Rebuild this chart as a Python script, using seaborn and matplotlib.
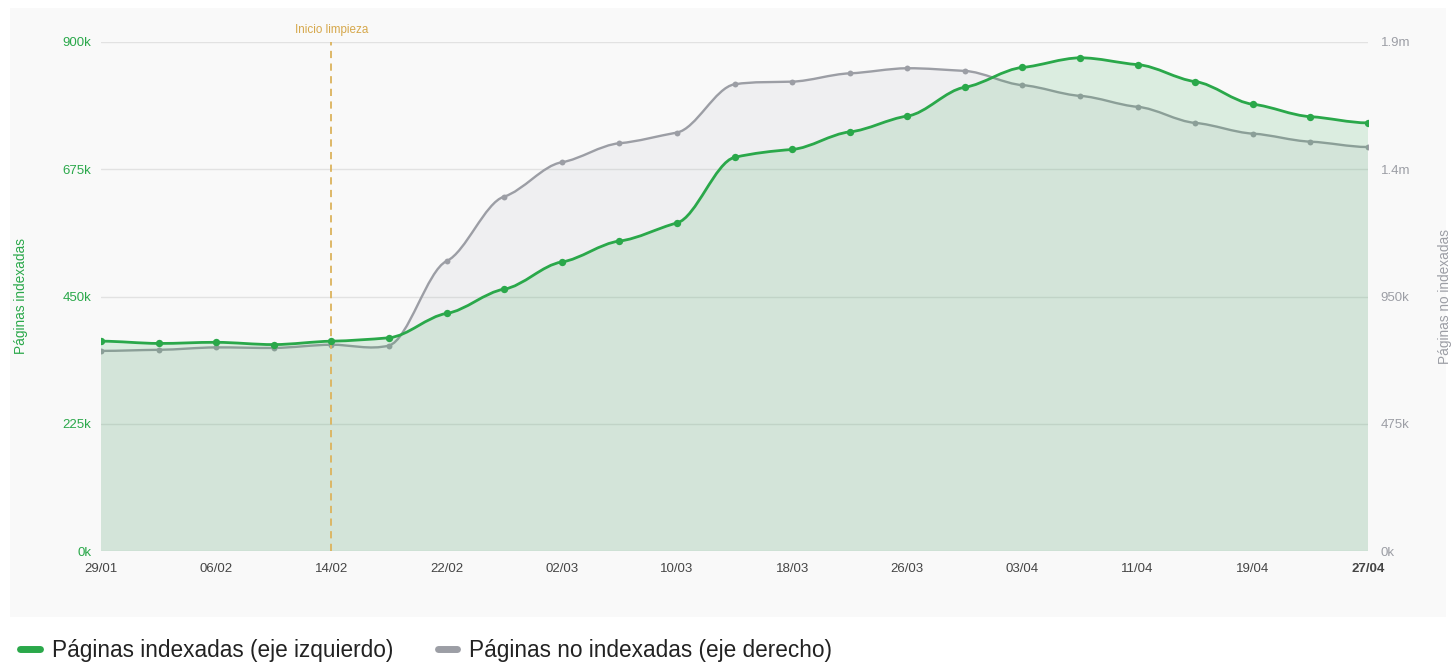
import matplotlib
matplotlib.use("Agg")
import numpy as np
import pandas as pd
import matplotlib.pyplot as plt
import matplotlib.dates as mdates
import seaborn as sns
from matplotlib.path import Path
from matplotlib.patches import PathPatch, Rectangle
from matplotlib.lines import Line2D

# datos (un punto cada 4 dias, anio no bisiesto)
fechas = pd.date_range("2023-01-29", "2023-04-27", freq="4D")
paginas_indexadas = [371000, 367000, 369000, 365000, 371000, 377000, 420000, 463000,
                     511000, 548000, 580000, 696000, 710000, 741000, 769000, 820000,
                     855000, 872000, 860000, 830000, 790000, 768000, 757000]
paginas_no_indexadas = [747000, 751000, 760000, 758000, 770000, 767000, 1082000, 1323000,
                        1451000, 1522000, 1562000, 1742000, 1752000, 1783000, 1802000, 1792000,
                        1739000, 1699000, 1658000, 1598000, 1558000, 1528000, 1508000]
ticks_izq = [0, 225000, 450000, 675000, 900000]
etiquetas_izq = ["0k", "225k", "450k", "675k", "900k"]
ticks_der = [0, 475000, 950000, 1425000, 1900000]
etiquetas_der = ["0k", "475k", "950k", "1.4m", "1.9m"]
fecha_limpieza = pd.Timestamp("2023-02-14")

verde = "#2aa84a"
gris = "#9c9ea5"
dorado = "#dcb35c"


def curva_suave(x, y, k=0.35, base=None):
    # camino bezier que pasa por cada punto (tangentes suavizadas)
    x = np.asarray(x, dtype=float)
    y = np.asarray(y, dtype=float)
    n = len(x)
    m = np.zeros(n)
    for i in range(1, n - 1):
        m[i] = k * (y[i + 1] - y[i - 1]) / (x[i + 1] - x[i - 1])
    verts = [(x[0], y[0])]
    codes = [Path.MOVETO]
    if base is not None:
        verts = [(x[0], base), (x[0], y[0])]
        codes = [Path.MOVETO, Path.LINETO]
    for i in range(n - 1):
        dx = x[i + 1] - x[i]
        verts += [(x[i] + dx / 3, y[i] + m[i] * dx / 3),
                  (x[i + 1] - dx / 3, y[i + 1] - m[i + 1] * dx / 3),
                  (x[i + 1], y[i + 1])]
        codes += [Path.CURVE4] * 3
    if base is not None:
        verts += [(x[-1], base), (x[0], base)]
        codes += [Path.LINETO, Path.CLOSEPOLY]
    return Path(verts, codes)


sns.set_theme(style="white")
plt.rcParams["font.family"] = ["Liberation Sans", "DejaVu Sans"]

W, H = 1456, 672
fig = plt.figure(figsize=(W / 100, H / 100), dpi=100)
fig.patches.append(Rectangle((10 / W, 1 - 617 / H), 1436 / W, 609 / H,
                             transform=fig.transFigure, facecolor="#f9f9f9",
                             edgecolor="none", zorder=-10))

ax1 = fig.add_axes([101 / W, 1 - 551 / H, 1267 / W, 509 / H])
ax2 = ax1.twinx()
ax1.set_zorder(2)
ax2.set_zorder(1)
ax1.patch.set_visible(False)
ax2.patch.set_visible(False)

xnum = mdates.date2num(fechas)

# serie gris (eje derecho)
ax2.add_patch(PathPatch(curva_suave(xnum, paginas_no_indexadas, base=0),
                        facecolor="#a8acb8", alpha=0.12, edgecolor="none", zorder=1))
ax2.add_patch(PathPatch(curva_suave(xnum, paginas_no_indexadas),
                        facecolor="none", edgecolor=gris, lw=1.7, zorder=3))
sns.scatterplot(x=fechas, y=paginas_no_indexadas, ax=ax2, color=gris, s=18,
                edgecolor=gris, linewidth=0, zorder=4, legend=False)

# serie verde (eje izquierdo)
ax1.add_patch(PathPatch(curva_suave(xnum, paginas_indexadas, base=0),
                        facecolor=verde, alpha=0.14, edgecolor="none", zorder=1))
ax1.add_patch(PathPatch(curva_suave(xnum, paginas_indexadas),
                        facecolor="none", edgecolor=verde, lw=2.0, zorder=3))
sns.scatterplot(x=fechas, y=paginas_indexadas, ax=ax1, color=verde, s=28,
                edgecolor=verde, linewidth=0, zorder=4, legend=False)

# linea de inicio de limpieza
ax1.axvline(fecha_limpieza, color=dorado, lw=1.3, ls=(0, (4, 3)), zorder=2)
ax1.text(fecha_limpieza, 1.023, "Inicio limpieza", transform=ax1.get_xaxis_transform(),
         ha="center", va="center", fontsize=8.4, color="#d6a84c")

ax1.set_xlim(fechas[0], fechas[-1])
ax1.set_ylim(0, 900000)
ax2.set_ylim(0, 1900000)

ax1.set_yticks(ticks_izq)
ax1.set_yticklabels(etiquetas_izq)
ax2.set_yticks(ticks_der)
ax2.set_yticklabels(etiquetas_der)
ax1.set_xticks(fechas[::2])
ax1.set_xticklabels([f.strftime("%d/%m") for f in fechas[::2]])
ax1.get_xticklabels()[-1].set_fontweight("bold")

ax2.yaxis.grid(True, color="#e2e2e2", lw=1)
ax2.set_axisbelow(True)
ax1.grid(False)
ax2.xaxis.grid(False)

ax1.tick_params(axis="x", length=0, pad=8.5, labelsize=9.5, labelcolor="#454545")
ax1.tick_params(axis="y", length=0, pad=7, labelsize=9.5, labelcolor=verde)
ax2.tick_params(axis="y", length=0, pad=9, labelsize=9.5, labelcolor=gris)

for a in (ax1, ax2):
    for s in a.spines.values():
        s.set_visible(False)

ax1.set_ylabel("Páginas indexadas", color=verde, fontsize=9.8)
ax2.set_ylabel("Páginas no indexadas", color=gris, fontsize=9.8)
ax1.yaxis.set_label_coords(-0.0576, 0.5)
ax2.yaxis.set_label_coords(1.0552, 0.5)
ax1.set_xlabel("")

handles = [Line2D([], [], color=verde, lw=5, solid_capstyle="round"),
           Line2D([], [], color=gris, lw=5, solid_capstyle="round")]
fig.legend(handles, ["Páginas indexadas (eje izquierdo)", "Páginas no indexadas (eje derecho)"],
           loc="center left", bbox_to_anchor=(0.0, 1 - 650 / H), frameon=False, ncol=2,
           fontsize=16.3, handlelength=0.85, handletextpad=0.55, columnspacing=1.95,
           labelcolor="#222222")

fig.savefig("out.png", dpi=100, facecolor="white")
